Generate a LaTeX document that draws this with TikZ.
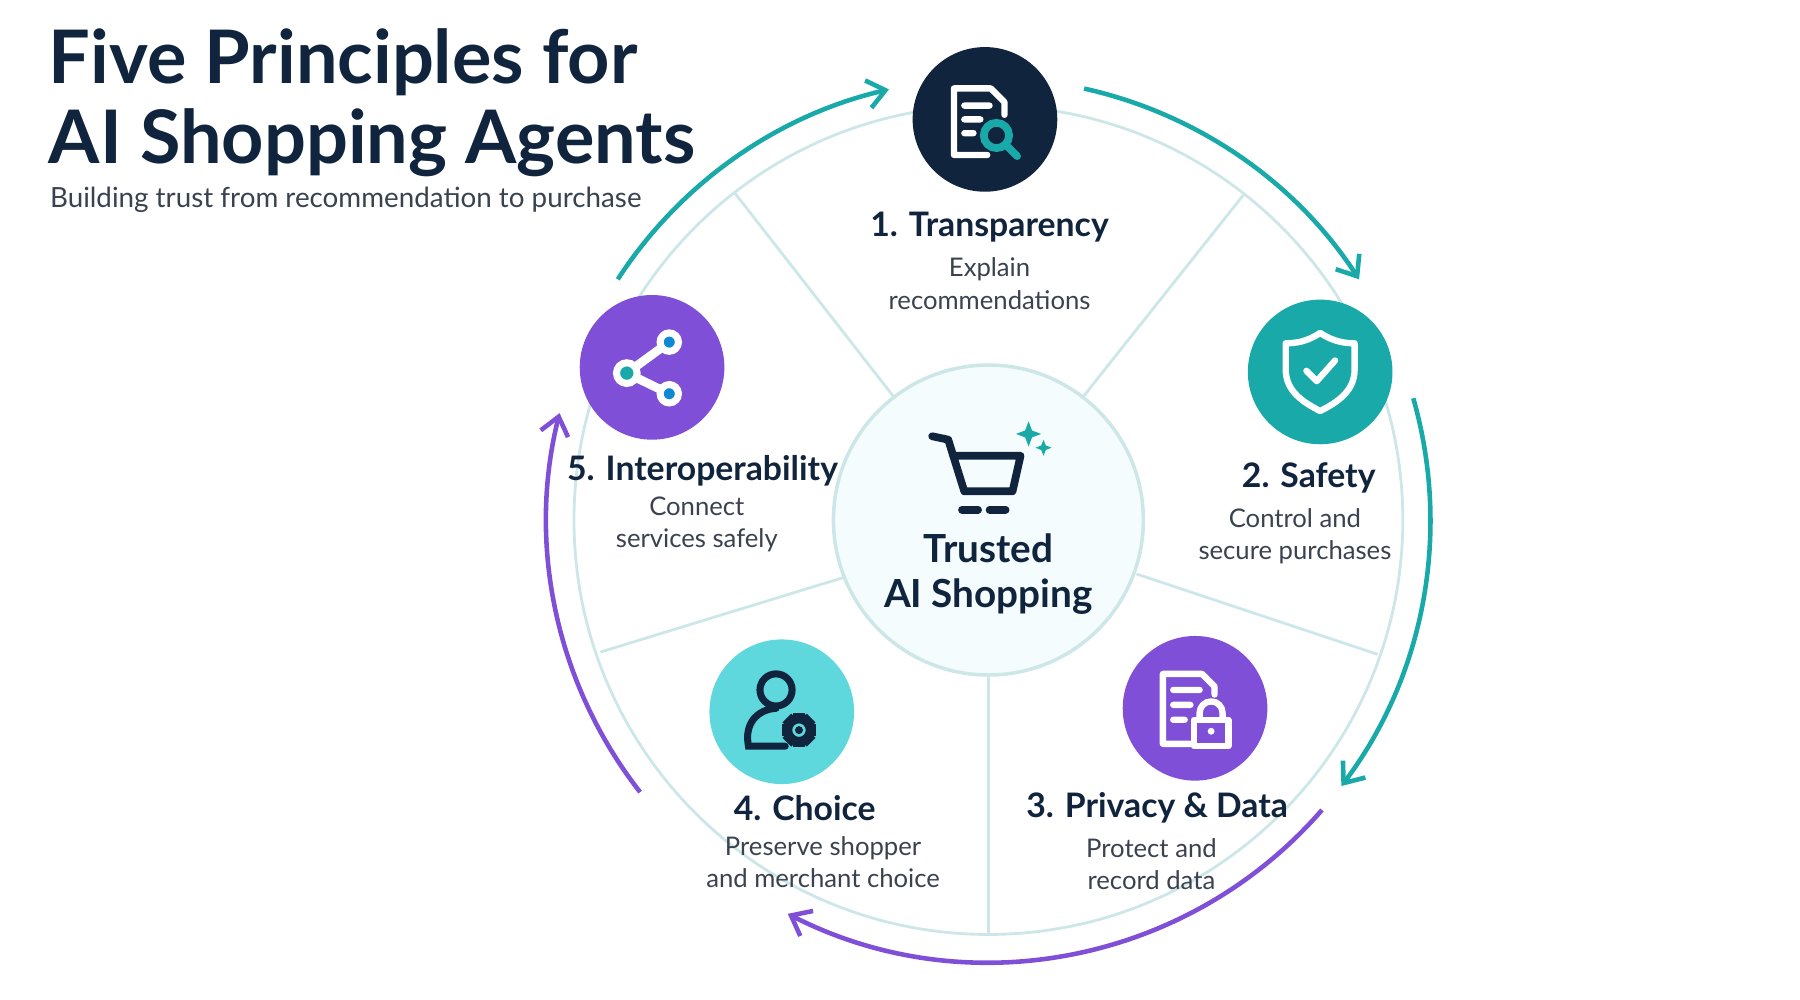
\documentclass[tikz,border=0pt]{standalone}
\usepackage{fontspec}
\setmainfont{Lato}
\usetikzlibrary{arrows.meta}
\definecolor{navy}{HTML}{10243E}
\definecolor{teal}{HTML}{1AA9A9}
\definecolor{purp}{HTML}{7F4FD8}
\definecolor{cyanl}{HTML}{5ED8DC}
\definecolor{grayt}{HTML}{3A4250}
\definecolor{spoke}{HTML}{CDE7E8}
\begin{document}
\begin{tikzpicture}[x=0.01148cm,y=-0.01148cm,
  ttl/.style={font=\bfseries\fontsize{9.6}{12}\selectfont,text=navy},
  sub/.style={font=\fontsize{7.3}{9.2}\selectfont,text=grayt,align=center},
  disc/.style={circle,minimum size=126*0.01148cm,inner sep=0pt},
  ar/.style={line width=1.3pt,-{Straight Barb[length=5pt,width=8pt]}},
  ic/.style={white,line width=1.8pt,line cap=round,line join=round}]
\useasboundingbox (0,0) rectangle (1568,871);
\coordinate (c) at (861,453);
% wheel
\draw[spoke,line width=0.8pt] (c) circle (361);
\draw[spoke,line width=0.8pt] (640,168)--(778,345) (1083,170)--(944,345) (990,500)--(1200,570) (735,503)--(523,568) (861,590)--(861,815);
\node[circle,draw=spoke,line width=1pt,fill=cyan!4,minimum size=270*0.01148cm] (ctr) at (c) {};
% arrows (angles negated because y axis points down)
\draw[ar,teal] ([shift={(-147:385)}]c) arc[start angle=-147,end angle=-103,radius=385] coordinate (a1);
\draw[ar,teal] ([shift={(-77.5:385)}]c) arc[start angle=-77.5,end angle=-33,radius=385] coordinate (a2);
\draw[ar,teal] ([shift={(-16:385)}]c) arc[start angle=-16,end angle=37,radius=385] coordinate (a3);
\draw[ar,purp] ([shift={(41:385)}]c) arc[start angle=41,end angle=117,radius=385] coordinate (a4);
\draw[ar,purp] ([shift={(142:385)}]c) arc[start angle=142,end angle=194,radius=385] coordinate (a5);
% title
\node[anchor=north west,align=left,font=\bfseries\fontsize{21}{23}\selectfont,text=navy,inner sep=0pt] (title) at (42,24) {Five Principles for\\AI Shopping Agents};
\node[anchor=west,font=\fontsize{7.9}{9}\selectfont,text=grayt,inner sep=0pt] (subt) at (43,174) {Building trust from recommendation to purchase};
% center
\node[font=\bfseries\fontsize{11}{13}\selectfont,text=navy,align=center] (ctrt) at (861,500) {Trusted\\AI Shopping};
\draw[navy,line width=2.2pt,line join=round,line cap=round] (812,380)--(826,383)--(840,428)--(882,428)--(889,397)--(830,397);
\draw[navy,line width=2.2pt,line cap=round] (838,444)--(852,444) (862,444)--(876,444);
\fill[teal] (893,375) -- ++(3,-8) -- ++(3,8) -- ++(8,3) -- ++(-8,3) -- ++(-3,8) -- ++(-3,-8) -- ++(-8,-3) -- cycle;
\fill[teal] (907,388) -- ++(2,-5) -- ++(2,5) -- ++(5,2) -- ++(-5,2) -- ++(-2,5) -- ++(-2,-5) -- ++(-5,-2) -- cycle;
% node 1
\node[disc,fill=navy] (n1) at (858,104) {};
\draw[ic] (860,135)--(831,135)--(831,77)--(863,77)--(875,89)--(875,100) (840,92)--(862,92) (840,104)--(854,104) (840,116)--(848,116);
\draw[teal,line width=2.2pt,line cap=round] (868,118) circle (11) (876,126)--(886,136);
\node[ttl] (t1) at (862,198) {1. Transparency};
\node[sub] (s1) at (862,247) {Explain\\recommendations};
% node 2
\node[disc,fill=teal] (n2) at (1150,324) {};
\draw[ic] (1150,290) .. controls (1162,298) and (1172,299) .. (1180,299) -- (1180,322) .. controls (1180,340) and (1166,350) .. (1150,358) .. controls (1134,350) and (1120,340) .. (1120,322) -- (1120,299) .. controls (1128,299) and (1138,298) .. (1150,290) -- cycle;
\draw[ic] (1138,323)--(1147,332)--(1163,314);
\node[ttl] (t2) at (1140,416) {2. Safety};
\node[sub] (s2) at (1128,467) {Control and\\secure purchases};
% node 3
\node[disc,fill=purp] (n3) at (1041,617) {};
\draw[ic] (1038,648)--(1013,648)--(1013,587)--(1047,587)--(1058,598)--(1058,605) (1022,601)--(1045,601) (1022,614)--(1037,614) (1022,627)--(1032,627);
\draw[ic] (1045,627)--(1045,621) arc[start angle=180,end angle=360,radius=10]--(1065,627);
\draw[ic,fill=purp] (1040,627) rectangle (1070,650);
\fill[white] (1055,637) circle (3);
\node[ttl] (t3) at (1008,704) {3. Privacy \& Data};
\node[sub] (s3) at (1003,753) {Protect and\\record data};
% node 4
\node[disc,fill=cyanl] (n4) at (681,620) {};
\draw[navy,line width=2pt,line cap=round] (676,601) circle (14);
\draw[navy,line width=2pt,line cap=round] (684,650)--(652,650) .. controls (648,630) and (660,618) .. (676,617);
\foreach \a in {0,45,...,315} \draw[navy,line width=3.5pt] ([shift={(\a:9)}]696,636)--([shift={(\a:15)}]696,636);
\draw[navy,line width=2pt,fill=cyanl] (696,636) circle (9);
\fill[navy] (696,636) circle (3.5);
\node[ttl] (t4) at (701,704) {4. Choice};
\node[sub] (s4) at (717,751) {Preserve shopper\\and merchant choice};
% node 5
\node[disc,fill=purp] (n5) at (568,320) {};
\draw[white,line width=2.5pt] (546,325)--(583,298) (546,325)--(583,343);
\draw[white,line width=2pt,fill=teal] (546,325) circle (9);
\draw[white,line width=2pt,fill=cyan!70!blue] (583,298) circle (8) (583,343) circle (8);
\node[ttl] (t5) at (612,410) {5. Interoperability};
\node[sub] (s5) at (607,457) {Connect\\services safely};
\end{tikzpicture}
\end{document}
